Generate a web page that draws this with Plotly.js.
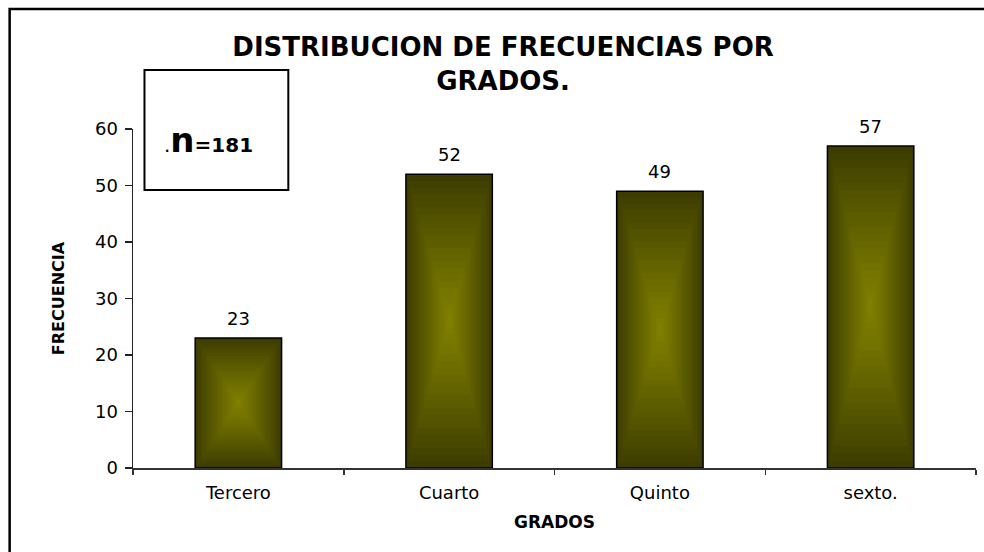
<!DOCTYPE html>
<html>
<head>
<meta charset="utf-8">
<script src="https://cdn.plot.ly/plotly-3.0.1.min.js"></script>
<style>html,body{margin:0;padding:0;background:#fff;}#chart{width:984px;height:552px;}</style>
</head>
<body>
<div id="chart"></div>
<script>
// ---- data ----
const categories = ["Tercero", "Cuarto", "Quinto", "sexto."];
const frequencies = [23, 52, 49, 57];
const yTicks = [0, 10, 20, 30, 40, 50, 60];
const titleText = "DISTRIBUCION DE FRECUENCIAS POR<br>GRADOS.";
const sampleSize = 181;

// ---- styling ----
const barWidth = 0.41;
const edgeColor = [60, 60, 0];
const centerColor = [130, 130, 0];
const nLayers = 22;

function lerp(a, b, t) { return Math.round(a + (b - a) * t); }

const traces = [];
for (let k = 0; k < nLayers; k++) {
  const f = 1 - k / nLayers;           // relative size of this layer
  const t = Math.pow(1 - f, 0.9);      // 0 at edge, ->1 at center
  const c = `rgb(${lerp(edgeColor[0], centerColor[0], t)},${lerp(edgeColor[1], centerColor[1], t)},${lerp(edgeColor[2], centerColor[2], t)})`;
  traces.push({
    type: "bar",
    x: categories,
    y: frequencies.map(v => v * f),
    base: frequencies.map(v => v * (1 - f) / 2),
    width: barWidth * f,
    marker: { color: c, line: { color: k === 0 ? "#000" : c, width: k === 0 ? 1.5 : 0 } },
    hoverinfo: "skip",
    showlegend: false
  });
}

const annotations = categories.map((c, i) => ({
  x: c, y: frequencies[i], xref: "x", yref: "y",
  text: String(frequencies[i]), showarrow: false,
  yanchor: "bottom", yshift: 7,
  font: { family: "DejaVu Sans, Liberation Sans, Arial", size: 18, color: "#000" }
}));

// plot-area pixel geometry helpers for paper coords
const L = 132.5, R = 976.5, T = 129, B = 468;
const px = x => (x - L) / (R - L);
const py = y => (B - y) / (B - T);

annotations.push({
  xref: "paper", yref: "paper", x: px(208), y: py(140),
  xanchor: "center", yanchor: "middle", showarrow: false,
  text: "<span style='font-size:20px'>.</span><b><span style='font-size:34px'>n</span>=" + sampleSize + "</b>",
  font: { family: "DejaVu Sans, Liberation Sans, Arial", size: 20, color: "#000" }
});

const layout = {
  width: 984, height: 552,
  margin: { l: L, r: 984 - R, t: T, b: 552 - B, pad: 0 },
  paper_bgcolor: "#fff", plot_bgcolor: "#fff",
  barmode: "overlay",
  showlegend: false,
  title: {
    text: titleText,
    font: { family: "DejaVu Sans, Liberation Sans, Arial", size: 26, color: "#000", weight: "bold" },
    x: px(503), xref: "paper", xanchor: "center",
    y: 1 - 56 / 552, yref: "container", yanchor: "top"
  },
  xaxis: {
    type: "category", range: [-0.5, 3.5],
    showgrid: false, zeroline: false,
    showline: true, linecolor: "#333", linewidth: 1.5,
    ticks: "outside", tickson: "boundaries", ticklen: 5, tickcolor: "#333", tickwidth: 1.5,
    ticklabelstandoff: 8,
    tickfont: { family: "DejaVu Sans, Liberation Sans, Arial", size: 18, color: "#000" },
    title: { text: "GRADOS", standoff: 14,
      font: { family: "DejaVu Sans, Liberation Sans, Arial", size: 17, color: "#000", weight: "bold" } }
  },
  yaxis: {
    range: [0, 60], tickvals: yTicks, ticktext: yTicks.map(String),
    showgrid: false, zeroline: false,
    showline: true, linecolor: "#222", linewidth: 1.5,
    ticks: "outside", ticklen: 7, tickcolor: "#222", tickwidth: 1.5,
    ticklabelstandoff: 3,
    tickfont: { family: "DejaVu Sans, Liberation Sans, Arial", size: 18, color: "#000" },
    title: { text: "FRECUENCIA", standoff: 26,
      font: { family: "DejaVu Sans, Liberation Sans, Arial", size: 16, color: "#000", weight: "bold" } }
  },
  shapes: [
    { type: "rect", xref: "paper", yref: "paper",
      x0: px(9), x1: px(992), y0: py(562), y1: py(9),
      line: { color: "#000", width: 2.5 }, fillcolor: "rgba(0,0,0,0)", layer: "above" },
    { type: "rect", xref: "paper", yref: "paper",
      x0: px(144), x1: px(288), y0: py(190), y1: py(70),
      line: { color: "#000", width: 2 }, fillcolor: "#fff", layer: "above" }
  ],
  annotations: annotations
};

Plotly.newPlot("chart", traces, layout, { displayModeBar: false, staticPlot: true });
</script>
</body>
</html>
